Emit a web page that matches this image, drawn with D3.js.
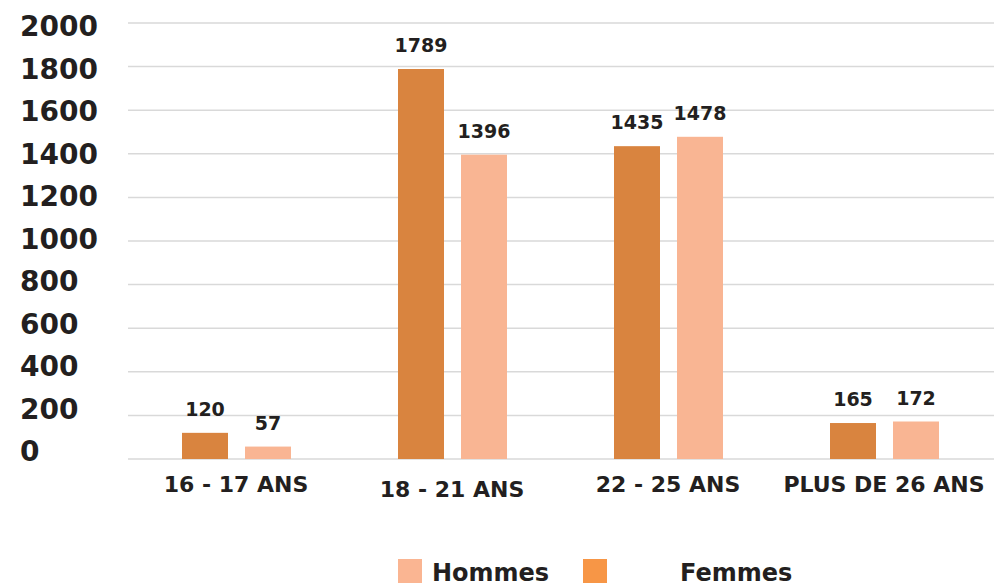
<!DOCTYPE html>
<html>
<head>
<meta charset="utf-8">
<script src="https://cdn.jsdelivr.net/npm/d3@7"></script>
<style>
  html, body { margin: 0; padding: 0; background: #fff; }
  svg { display: block; font-family: "DejaVu Sans", sans-serif; font-weight: 700; }
</style>
</head>
<body>
<svg id="chart" width="994" height="588"></svg>
<script>
const categories = ["16 - 17 ANS", "18 - 21 ANS", "22 - 25 ANS", "PLUS DE 26 ANS"];
const seriesNames = ["Femmes", "Hommes"];
const femmes = [120, 1789, 1435, 165];
const hommes = [57, 1396, 1478, 172];
const yTicks = [0, 200, 400, 600, 800, 1000, 1200, 1400, 1600, 1800, 2000];
const barColors = { Femmes: "#D9843F", Hommes: "#F9B593" };
const legendItems = [
  { name: "Hommes", color: "#FAB592" },
  { name: "Femmes", color: "#F79646" }
];

const svg = d3.select("#chart");
const W = 994, H = 588;

const x = d3.scaleBand().domain(categories).range([128, 992]).padding(0);
const xs = d3.scaleBand().domain(seriesNames).range([-54, 55]).paddingInner(0.27);
const y = d3.scaleLinear().domain([0, 2000]).range([459, 23]);
const yLab = d3.scaleLinear().domain([0, 2000]).range([451, 26]);

// gridlines
svg.append("g").selectAll("line").data(yTicks).join("line")
  .attr("x1", 128).attr("x2", W)
  .attr("y1", d => y(d)).attr("y2", d => y(d))
  .attr("stroke", "#d9d9d9").attr("stroke-width", 1.5);

// y labels
svg.append("g").selectAll("text").data(yTicks).join("text")
  .attr("x", 20).attr("y", d => yLab(d)).attr("dy", "0.36em")
  .attr("font-size", 28).attr("fill", "#231f20")
  .text(d => d);

const data = categories.map((c, i) => ({ cat: c, values: [
  { s: "Femmes", v: femmes[i] }, { s: "Hommes", v: hommes[i] } ] }));

const groups = svg.append("g").selectAll("g").data(data).join("g")
  .attr("transform", d => `translate(${x(d.cat) + x.bandwidth() / 2},0)`);

groups.selectAll("rect").data(d => d.values).join("rect")
  .attr("x", d => xs(d.s)).attr("width", xs.bandwidth())
  .attr("y", d => y(d.v)).attr("height", d => y(0) - y(d.v))
  .attr("fill", d => barColors[d.s]);

groups.selectAll("text.val").data(d => d.values).join("text")
  .attr("class", "val")
  .attr("x", d => xs(d.s) + xs.bandwidth() / 2)
  .attr("y", d => y(d.v) - 17)
  .attr("text-anchor", "middle").attr("font-size", 19).attr("fill", "#231f20")
  .text(d => d.v);

// category labels
const catOffsets = [0, 5, 0, 0];
svg.append("g").selectAll("text").data(categories).join("text")
  .attr("x", d => x(d) + x.bandwidth() / 2)
  .attr("y", (d, i) => 492 + catOffsets[i])
  .attr("text-anchor", "middle").attr("font-size", 22).attr("fill", "#231f20")
  .text(d => d);

// legend
const legX = [398, 583];
const legTX = [432, 680];
const leg = svg.append("g").selectAll("g").data(legendItems).join("g");
leg.append("rect").attr("x", (d, i) => legX[i]).attr("y", 559)
  .attr("width", 24).attr("height", 24).attr("fill", d => d.color);
leg.append("text").attr("x", (d, i) => legTX[i]).attr("y", 581)
  .attr("font-size", 24).attr("fill", "#231f20").text(d => d.name);
</script>
</body>
</html>
